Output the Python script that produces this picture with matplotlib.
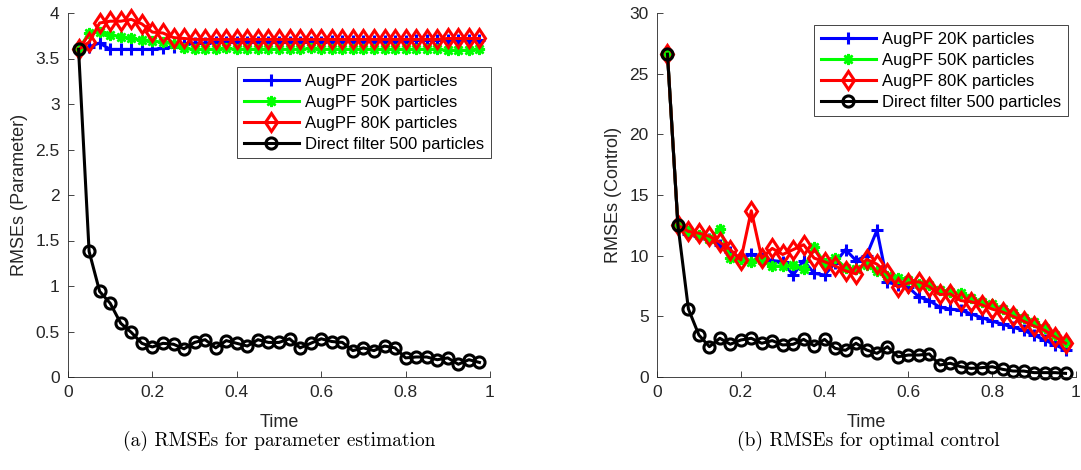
import numpy as np
import matplotlib
matplotlib.use("Agg")
import matplotlib.pyplot as plt

# -------------------- data --------------------
t = np.arange(1, 40) * 0.025   # 0.025 ... 0.975

labels = ["AugPF 20K particles", "AugPF 50K particles",
          "AugPF 80K particles", "Direct filter 500 particles"]

# (a) parameter estimation RMSEs
param_20k = [3.6, 3.63, 3.67, 3.6, 3.6, 3.6, 3.6, 3.6, 3.61, 3.63,
             3.66, 3.67, 3.67, 3.68, 3.68, 3.68, 3.68, 3.68, 3.68, 3.68,
             3.68, 3.68, 3.68, 3.68, 3.69, 3.69, 3.69, 3.69, 3.69, 3.69,
             3.69, 3.69, 3.70, 3.70, 3.70, 3.70, 3.70, 3.70, 3.70]
param_50k = [3.6, 3.78, 3.79, 3.76, 3.74, 3.72, 3.70, 3.69, 3.68, 3.66,
             3.61, 3.60, 3.60, 3.60, 3.61, 3.60, 3.60, 3.60, 3.60, 3.60,
             3.60, 3.60, 3.61, 3.60, 3.60, 3.60, 3.60, 3.60, 3.60, 3.60,
             3.60, 3.60, 3.60, 3.60, 3.60, 3.59, 3.59, 3.59, 3.60]
param_80k = [3.6, 3.68, 3.89, 3.91, 3.91, 3.93, 3.88, 3.79, 3.78, 3.73,
             3.72, 3.71, 3.71, 3.71, 3.71, 3.71, 3.71, 3.71, 3.71, 3.71,
             3.71, 3.71, 3.71, 3.71, 3.71, 3.71, 3.71, 3.71, 3.71, 3.71,
             3.71, 3.71, 3.71, 3.71, 3.71, 3.72, 3.72, 3.72, 3.72]
param_direct = [3.6, 1.38, 0.94, 0.81, 0.59, 0.49, 0.37, 0.33, 0.37, 0.36,
                0.31, 0.38, 0.41, 0.32, 0.40, 0.37, 0.34, 0.41, 0.38, 0.38,
                0.42, 0.32, 0.37, 0.42, 0.39, 0.38, 0.29, 0.32, 0.29, 0.34,
                0.32, 0.21, 0.22, 0.22, 0.19, 0.21, 0.14, 0.19, 0.16]

# (b) optimal control RMSEs
ctrl_20k = [26.6, 12.5, 11.8, 11.6, 11.35, 10.9, 10.3, 9.8, 10.1, 9.8,
            9.6, 9.5, 8.4, 9.6, 8.55, 8.4, 9.4, 10.5, 9.6, 10.0,
            12.1, 7.8, 7.6, 7.4, 6.6, 6.3, 5.75, 5.6, 5.5, 5.2,
            4.9, 4.6, 4.35, 4.1, 3.85, 3.45, 3.05, 2.65, 2.25]
ctrl_50k = [26.6, 12.5, 12.0, 11.7, 11.4, 12.2, 9.8, 9.7, 9.5, 9.65,
            9.15, 9.15, 9.2, 8.9, 10.7, 9.4, 9.8, 9.0, 8.9, 9.2,
            8.7, 8.3, 8.2, 8.0, 7.7, 7.6, 7.2, 7.0, 6.9, 6.5,
            6.2, 6.0, 5.6, 5.3, 4.9, 4.5, 4.0, 3.5, 2.9]
ctrl_80k = [26.6, 12.5, 12.0, 11.85, 11.6, 11.1, 10.5, 9.65, 13.7, 9.8,
            10.6, 10.1, 10.5, 10.9, 9.8, 9.5, 9.15, 8.75, 8.5, 9.7,
            9.3, 8.55, 7.4, 7.75, 7.85, 7.45, 6.8, 6.85, 6.3, 6.2,
            5.95, 5.6, 5.35, 5.0, 4.6, 4.2, 3.85, 3.3, 2.78]
ctrl_direct = [26.6, 12.5, 5.6, 3.46, 2.5, 3.19, 2.7, 3.05, 3.19, 2.78,
               3.0, 2.64, 2.7, 3.1, 2.58, 3.1, 2.36, 2.2, 2.78, 2.23,
               1.95, 2.5, 1.67, 1.81, 1.81, 1.9, 0.99, 1.13, 0.85, 0.71,
               0.77, 0.85, 0.63, 0.49, 0.49, 0.36, 0.36, 0.36, 0.3]

# -------------------- styles --------------------
plt.rcParams['font.family'] = ['Liberation Sans', 'DejaVu Sans']
axcol = '#262626'
styles = [
    dict(color=(0, 0, 1), marker='+', ms=9, mew=2.2),
    dict(color=(0, 1, 0), marker=(8, 2, 0), ms=8, mew=1.8),
    dict(color=(1, 0, 0), marker='d', ms=9.5, mew=2.2, mfc='none'),
    dict(color='k', marker='o', ms=8, mew=2.2, mfc='none'),
]

fig = plt.figure(figsize=(10.81, 4.70), dpi=100)
ax1 = fig.add_axes([68/1081, 93/470, 422/1081, 364/470])
ax2 = fig.add_axes([657/1081, 93/470, 419/1081, 364/470])


def draw(ax, series, ymax, ystep, ylabel, leg_xy):
    handles = []
    for ys, st in zip(series, styles):
        h, = ax.plot(t, ys, lw=2.2, **st)
        handles.append(h)
    ax.set_xlim(0, 1)
    ax.set_ylim(0, ymax)
    ax.set_xticks([0, 0.2, 0.4, 0.6, 0.8, 1])
    ax.set_xticklabels(['0', '0.2', '0.4', '0.6', '0.8', '1'])
    ax.set_yticks(np.arange(0, ymax + ystep / 2, ystep))
    for s in ['top', 'right']:
        ax.spines[s].set_visible(False)
    for s in ['left', 'bottom']:
        ax.spines[s].set_color(axcol)
        ax.spines[s].set_linewidth(0.6)
    ax.tick_params(direction='in', length=4, width=0.6, colors=axcol,
                   labelsize=12.5, pad=6)
    ax.set_xlabel('Time', fontsize=13, color=axcol, labelpad=10)
    ax.set_ylabel(ylabel, fontsize=13, color=axcol, labelpad=5)
    for h in handles:
        h.set_clip_on(False)
    leg = ax.legend(handles, labels, loc='upper left',
                    bbox_to_anchor=leg_xy, bbox_transform=fig.transFigure,
                    fontsize=12, numpoints=1, handlelength=3.3,
                    handletextpad=0.4, labelspacing=0.36, borderpad=0.4,
                    borderaxespad=0, fancybox=False, framealpha=1)
    leg.get_frame().set_edgecolor(axcol)
    leg.get_frame().set_linewidth(0.6)


draw(ax1, [param_20k, param_50k, param_80k, param_direct], 4, 0.5,
     'RMSEs (Parameter)', (237/1081, 1 - 67/470))
ax1.set_yticklabels(['0', '0.5', '1', '1.5', '2', '2.5', '3', '3.5', '4'])
draw(ax2, [ctrl_20k, ctrl_50k, ctrl_80k, ctrl_direct], 30, 5,
     'RMSEs (Control)', (814/1081, 1 - 25/470))

fig.text(279/1081, 1 - 441/470, '(a) RMSEs for parameter estimation',
         family='cmr10', fontsize=14, ha='center', va='center')
fig.text(868/1081, 1 - 441/470, '(b) RMSEs for optimal control',
         family='cmr10', fontsize=14, ha='center', va='center')

fig.savefig('out.png', dpi=100)
